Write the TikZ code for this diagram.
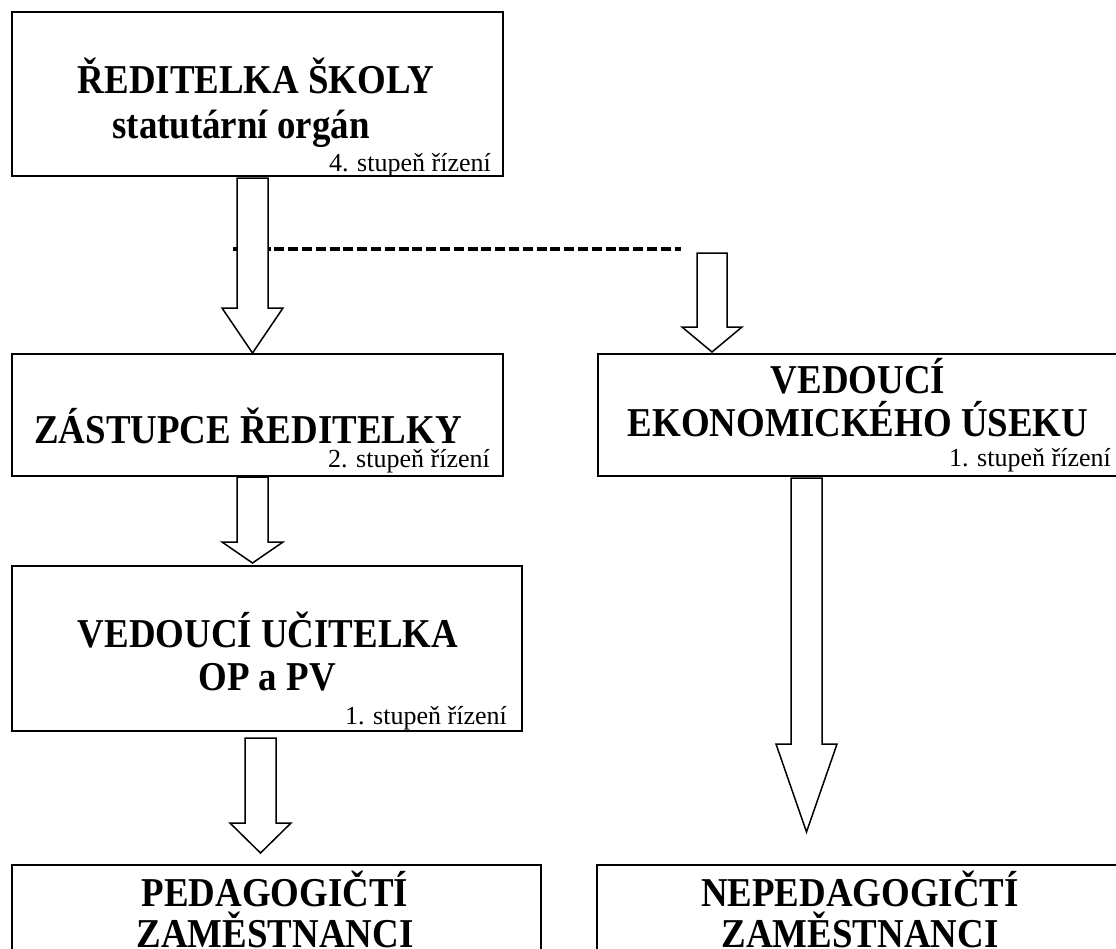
\documentclass[tikz,border=0pt]{standalone}
\usepackage{fontspec}
\setmainfont{Liberation Serif}
\newfontfamily\titlefont[FakeStretch=0.9]{Liberation Serif}
\begin{document}
\begin{tikzpicture}[x=1pt,y=-1pt,
  orgbox/.style={draw,line width=2.2pt,rectangle,inner sep=0pt,outer sep=0pt},
  title/.style={font=\titlefont\fontsize{41}{44}\selectfont\bfseries,inner sep=0pt,anchor=base,text depth=0pt},
  level/.style={font=\fontsize{26}{30}\selectfont,inner sep=0pt,anchor=base east},
  blockarrow/.style={draw,fill=white,line width=1.5pt,line join=miter},
  dashline/.style={line width=3.3pt,dash pattern=on 10pt off 3.8pt}]
\useasboundingbox (0,0) rectangle (1116,948);
\clip (0,0) rectangle (1116,948);

% boxes
\node[orgbox,minimum width=491pt,minimum height=164pt] (b1) at (257.5,94) {};
\node[orgbox,minimum width=491pt,minimum height=122pt] (b2) at (257.5,415) {};
\node[orgbox,minimum width=521pt,minimum height=122pt] (b3) at (858.5,415) {};
\node[orgbox,minimum width=510pt,minimum height=165pt] (b4) at (267,648.5) {};
\node[orgbox,minimum width=529pt,minimum height=135pt] (b5) at (276.5,932.5) {};
\node[orgbox,minimum width=525pt,minimum height=135pt] (b6) at (859.5,932.5) {};

% texts
\node[title] (t1a) at (256,93) {ŘEDITELKA ŠKOLY};
\node[title] (t1b) at (241,138) {statutární orgán};
\node[level] (l1) at (491,171) {4. stupeň řízení};

\node[title] (t2) at (248,443) {ZÁSTUPCE ŘEDITELKY};
\node[level] (l2) at (490,467) {2. stupeň řízení};

\node[title] (t3a) at (858,393) {VEDOUCÍ};
\node[title] (t3b) at (858,436) {EKONOMICKÉHO ÚSEKU};
\node[level] (l3) at (1111,466) {1. stupeň řízení};

\node[title] (t4a) at (268,647) {VEDOUCÍ UČITELKA};
\node[title] (t4b) at (267,690) {OP a PV};
\node[level] (l4) at (507,724) {1. stupeň řízení};

\node[title] (t5a) at (275,906) {PEDAGOGIČTÍ};
\node[title] (t5b) at (275,947) {ZAMĚSTNANCI};

\node[title] (t6a) at (860,906) {NEPEDAGOGIČTÍ};
\node[title] (t6b) at (860,947) {ZAMĚSTNANCI};

% dashed link
\coordinate (d0) at (233,249);
\coordinate (d1) at (681,249);
\draw[dashline] (d0) -- (d1);

% block arrows
\draw[blockarrow] (237,178) -- (237,308) -- (222,308) -- (252.5,353) -- (283,308) -- (268,308) -- (268,178) -- cycle;
\draw[blockarrow] (697,253) -- (697,327) -- (682,327) -- (712,352) -- (742,327) -- (727,327) -- (727,253) -- cycle;
\draw[blockarrow] (237,477) -- (237,542) -- (222,542) -- (252.5,563) -- (283,542) -- (268,542) -- (268,477) -- cycle;
\draw[blockarrow] (245,738) -- (245,823) -- (230,823) -- (260.5,853) -- (291,823) -- (276,823) -- (276,738) -- cycle;
\draw[blockarrow] (791,478) -- (791,744) -- (776,744) -- (806.5,832) -- (837,744) -- (822,744) -- (822,478) -- cycle;
\end{tikzpicture}
\end{document}
